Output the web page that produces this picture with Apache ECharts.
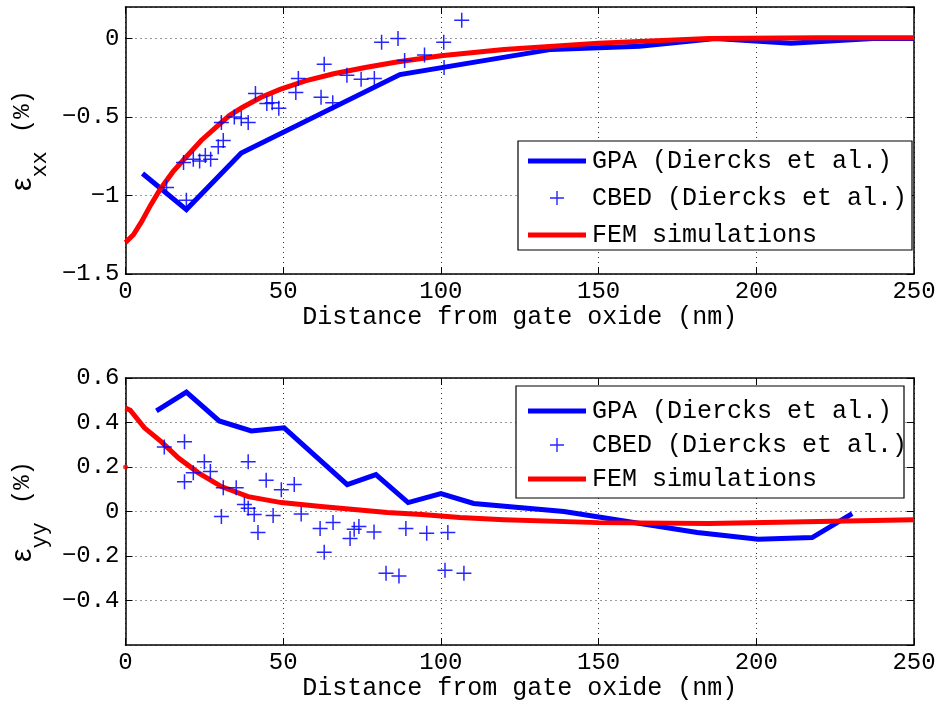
<!DOCTYPE html>
<html>
<head>
<meta charset="utf-8">
<title>Strain profiles vs. distance from gate oxide</title>
<script src="https://cdn.jsdelivr.net/npm/echarts@6/dist/echarts.min.js"></script>
<style>
  html, body { margin: 0; padding: 0; background: #fff; }
  #chart { width: 943px; height: 706px; }
</style>
</head>
<body>
<div id="chart"></div>
<script>
// ---- εxx (top panel) ----
const gpaXX = [[5.4,-0.86],[19.3,-1.09],[36.7,-0.73],[87,-0.23],[135,-0.07],[163,-0.05],[187,0.0],[211,-0.03],[237,0.0],[250,0.0]];
const cbedXX = [
  [13.0,-0.95],[19.3,-1.03],[18.4,-0.79],[21.5,-0.77],[23.5,-0.78],[25.3,-0.745],[27.0,-0.77],
  [29.4,-0.69],[31.0,-0.65],[30.4,-0.535],[34.5,-0.50],[36.7,-0.51],[38.9,-0.535],[41.2,-0.35],
  [44.8,-0.415],[46.5,-0.41],[48.6,-0.445],[54.0,-0.345],[54.8,-0.255],[62.0,-0.375],[63.0,-0.165],
  [65.7,-0.41],[70.2,-0.235],[74.7,-0.26],[78.9,-0.255],[81.2,-0.025],[86.4,0.0],[88.5,-0.14],
  [94.8,-0.105],[100.9,-0.025],[101.0,-0.185],[106.6,0.115]
];
const femXX = [[0,-1.30],[2.5,-1.25],[5,-1.17],[8,-1.06],[11,-0.96],[15,-0.85],[19,-0.76],[24,-0.65],
  [29,-0.56],[33,-0.49],[37,-0.44],[43,-0.375],[49,-0.325],[57,-0.27],[66,-0.225],[76,-0.185],
  [86,-0.15],[100,-0.11],[120,-0.07],[150,-0.03],[185,0.0],[220,0.005],[250,0.005]];

// ---- εyy (bottom panel) ----
const gpaYY = [[9.8,0.452],[19.3,0.537],[29.7,0.407],[39.9,0.362],[50.3,0.376],[70.3,0.121],[79.4,0.166],
  [89.6,0.04],[100,0.08],[110.4,0.036],[139,0.0],[181.3,-0.094],[200.6,-0.125],[217.7,-0.117],[230.4,-0.01]];
const cbedYY = [
  [12.3,0.29],[18.7,0.313],[18.7,0.134],[21.5,0.174],[25.0,0.224],[26.9,0.18],[30.4,-0.022],[31.0,0.107],
  [35.1,0.107],[37.7,0.031],[38.9,0.015],[38.9,0.224],[40.8,-0.013],[42.0,-0.094],[44.6,0.141],[46.8,-0.018],
  [49.4,0.098],[53.5,0.121],[55.7,-0.011],[61.7,-0.076],[63.0,-0.183],[65.8,-0.049],[71.2,-0.121],[72.5,-0.08],
  [74.0,-0.067],[78.8,-0.092],[82.6,-0.277],[86.7,-0.29],[88.9,-0.076],[95.5,-0.098],[101.3,-0.264],
  [102.2,-0.094],[107.3,-0.277]
];
const femYY = [[0,0.465],[1.5,0.455],[6,0.376],[11.4,0.313],[16.8,0.24],[23,0.175],[30.4,0.112],[38.9,0.067],
  [49.4,0.04],[62,0.022],[83,-0.004],[94,-0.013],[106,-0.027],[120,-0.037],[150,-0.05],[185,-0.054],
  [220,-0.045],[250,-0.037]];
const femYYStray = [[0,0.2]];

// axis ranges and names
const xRange = [0, 250];
const xTickStep = 50;
const yRangeXX = [-1.5, 0.2];
const yStepXX = 0.5;
const yRangeYY = [-0.6, 0.6];
const yStepYY = 0.2;
const xName = 'Distance from gate oxide (nm)';
const names = ['GPA (Diercks et al.)', 'CBED (Diercks et al.)', 'FEM simulations'];

const MONO = 'Liberation Mono, DejaVu Sans Mono, monospace';
const BLUE = '#0000ff';
const RED = '#ff0000';
const PLUS = 'path://M9,0h2v9h9v2h-9v9h-2v-9h-9v-2h9z';
const BAR = 'path://M0,0H58V5H0Z';

const fmt = v => (Math.round(v * 10) / 10).toString().replace('-', '\u2212');

const gridLine = { show: true, lineStyle: { color: '#333', width: 1, type: [1, 4] } };
const frameLine = { show: true, onZero: false, lineStyle: { color: '#000', width: 1.5 } };
const inTicks = { show: true, inside: true, length: 7, lineStyle: { color: '#000', width: 1 } };

function mainX(gridIndex, nameGap) {
  return {
    type: 'value', gridIndex, position: 'bottom', min: xRange[0], max: xRange[1], interval: xTickStep,
    axisLine: frameLine, axisTick: inTicks, splitLine: gridLine,
    axisLabel: { color: '#000', fontFamily: MONO, fontSize: 24, margin: 6, formatter: fmt },
    name: xName, nameLocation: 'middle', nameGap,
    nameTextStyle: { color: '#000', fontFamily: MONO, fontSize: 25 }
  };
}
function mirrorX(gridIndex) {
  return {
    type: 'value', gridIndex, position: 'top', min: xRange[0], max: xRange[1], interval: xTickStep,
    axisLine: frameLine, axisTick: inTicks, splitLine: { show: false }, axisLabel: { show: false }
  };
}
function mainY(gridIndex, range, step, sub, hide) {
  return {
    type: 'value', gridIndex, position: 'left', min: range[0], max: range[1], interval: step,
    axisLine: frameLine, axisTick: inTicks, splitLine: gridLine,
    axisLabel: Object.assign({ color: '#000', fontFamily: MONO, fontSize: 24, margin: 6, formatter: fmt }, hide),
    name: '{e|\u03b5}{s|' + sub + '}{g| }{p|(%)}', nameLocation: 'middle', nameRotate: 90, nameGap: 71,
    nameTextStyle: {
      color: '#000',
      rich: {
        e: { fontFamily: 'Liberation Sans, DejaVu Sans, sans-serif', fontSize: 30, lineHeight: 56, verticalAlign: 'middle', color: '#000' },
        s: { fontFamily: MONO, fontSize: 22, lineHeight: 22, verticalAlign: 'bottom', color: '#000' },
        g: { fontFamily: MONO, fontSize: 22, lineHeight: 22, verticalAlign: 'middle', width: 18 },
        p: { fontFamily: MONO, fontSize: 24, lineHeight: 30, verticalAlign: 'middle', color: '#000' }
      }
    }
  };
}
function mirrorY(gridIndex, range, step) {
  return {
    type: 'value', gridIndex, position: 'right', min: range[0], max: range[1], interval: step,
    axisLine: frameLine, axisTick: inTicks, splitLine: { show: false }, axisLabel: { show: false }
  };
}

function lineSeries(name, data, color, xi, yi) {
  return {
    name, type: 'line', data, xAxisIndex: xi, yAxisIndex: yi, symbol: 'none', smooth: false,
    lineStyle: { color, width: 5, cap: 'butt', join: 'miter' }, itemStyle: { color }, z: 3
  };
}
function crossSeries(name, data, xi, yi) {
  return {
    name, type: 'scatter', data, xAxisIndex: xi, yAxisIndex: yi, symbol: PLUS, symbolSize: 15,
    itemStyle: { color: BLUE, opacity: 0.85 }, z: 4
  };
}

function legendFor(top, gap) {
  return {
    orient: 'vertical', left: 528, top, padding: 0, itemGap: gap, itemWidth: 58, itemHeight: 14,
    selectedMode: false, z: 10,
    data: [
      { name: names[0], icon: BAR },
      { name: names[1], icon: PLUS },
      { name: names[2], icon: BAR }
    ],
    textStyle: { color: '#000', fontFamily: MONO, fontSize: 25, lineHeight: 30, padding: [0, 0, 0, 1] }
  };
}

const chart = echarts.init(document.getElementById('chart'), null, { renderer: 'canvas' });
chart.setOption({
  backgroundColor: '#fff',
  animation: false,
  grid: [
    { left: 124, top: 7, width: 790, height: 267 },
    { left: 124, top: 378, width: 790, height: 267 }
  ],
  xAxis: [mainX(0, 28), mirrorX(0), mainX(1, 28), mirrorX(1)],
  yAxis: [
    mainY(0, yRangeXX, yStepXX, 'xx', { showMaxLabel: false }), mirrorY(0, yRangeXX, yStepXX),
    mainY(1, yRangeYY, yStepYY, 'yy', { showMinLabel: false }), mirrorY(1, yRangeYY, yStepYY)
  ],
  legend: [legendFor(146, 7), legendFor(396, 4)],
  graphic: [
    { type: 'rect', z: 3, shape: { x: 518, y: 141, width: 394, height: 109 },
      style: { fill: '#fff', stroke: '#000', lineWidth: 1.2 } },
    { type: 'rect', z: 3, shape: { x: 516, y: 386, width: 388, height: 112 },
      style: { fill: '#fff', stroke: '#000', lineWidth: 1.2 } }
  ],
  series: [
    lineSeries(names[0], gpaXX, BLUE, 0, 0),
    crossSeries(names[1], cbedXX, 0, 0),
    lineSeries(names[2], femXX, RED, 0, 0),
    lineSeries(names[0], gpaYY, BLUE, 2, 2),
    crossSeries(names[1], cbedYY, 2, 2),
    lineSeries(names[2], femYY, RED, 2, 2),
    { type: 'scatter', data: femYYStray, xAxisIndex: 2, yAxisIndex: 2, symbol: 'circle', symbolSize: 5,
      itemStyle: { color: RED }, z: 4, silent: true }
  ]
});
</script>
</body>
</html>
